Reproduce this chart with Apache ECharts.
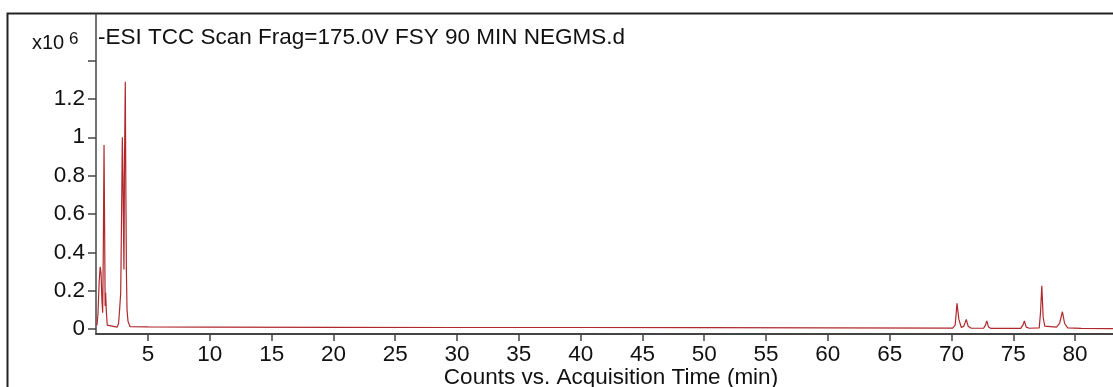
<!DOCTYPE html>
<html>
<head>
<meta charset="utf-8">
<script src="https://cdn.jsdelivr.net/npm/echarts@6/dist/echarts.min.js"></script>
<style>
  html, body { margin: 0; padding: 0; background: #fff; }
  #chart { width: 1113px; height: 387px; }
</style>
</head>
<body>
<div id="chart"></div>
<script>
// retention time (min) and counts (x10^6)
const times = [
  0.87, 0.95, 1.05, 1.13, 1.20, 1.27, 1.33, 1.38, 1.44, 1.49, 1.53, 1.57, 1.62, 1.70, 1.80,
  2.50, 2.62, 2.72, 2.79, 2.86, 2.92, 2.97, 3.05, 3.10, 3.16, 3.20, 3.25, 3.30, 3.38, 3.55,
  5, 10, 20, 30, 40, 50, 60, 70.1,
  70.3, 70.45, 70.6, 70.8, 71.0, 71.2, 71.35, 71.6,
  72.6, 72.75, 72.86, 73.0, 73.2,
  75.6, 75.78, 75.9, 76.05, 76.3,
  77.1, 77.2, 77.31, 77.42, 77.55, 78.5,
  78.75, 78.98, 79.15, 79.4, 80.5, 83.07
];
const counts = [
  0.02, 0.08, 0.25, 0.325, 0.29, 0.15, 0.085, 0.4, 0.96, 0.5, 0.12, 0.19, 0.1, 0.02, 0.01,
  0.01, 0.03, 0.12, 0.19, 0.6, 1.0, 0.8, 0.31, 0.9, 1.29, 0.8, 0.3, 0.1, 0.04, 0.012,
  0.011, 0.010, 0.009, 0.008, 0.008, 0.007, 0.006, 0.005,
  0.02, 0.134, 0.05, 0.008, 0.015, 0.05, 0.015, 0.004,
  0.004, 0.02, 0.042, 0.01, 0.003,
  0.003, 0.02, 0.042, 0.01, 0.004,
  0.006, 0.08, 0.226, 0.06, 0.015, 0.01,
  0.03, 0.09, 0.03, 0.006, 0.003, 0.002
];
const xTicks = [5, 10, 15, 20, 25, 30, 35, 40, 45, 50, 55, 60, 65, 70, 75, 80];
const yTicks = [0, 0.2, 0.4, 0.6, 0.8, 1, 1.2, 1.4];
const yLabels = [0, 0.2, 0.4, 0.6, 0.8, 1, 1.2];
const titleText = '-ESI TCC Scan Frag=175.0V FSY 90 MIN NEGMS.d';

const font = '"Liberation Sans", Arial, sans-serif';
let myChart = echarts.init(document.getElementById('chart'));

myChart.setOption({
  animation: false,
  textStyle: { fontFamily: font },
  title: {
    text: titleText,
    left: 98,
    top: 26,
    padding: 0,
    textStyle: { fontSize: 22.5, fontWeight: 'normal', color: '#111', fontFamily: font }
  },
  grid: { left: 96, right: 0, top: 14, bottom: 53, containLabel: false, outerBoundsMode: 'none' },
  xAxis: {
    type: 'value',
    min: 0.79,
    max: 83.07,
    name: 'Counts vs. Acquisition Time (min)',
    nameLocation: 'middle',
    nameGap: 32,
    nameMoveOverlap: false,
    nameTextStyle: { fontSize: 22.5, color: '#111', padding: [0, 0, 0, 13] },
    axisLine: { onZero: false, lineStyle: { color: '#444', width: 2 } },
    axisTick: { show: true, length: 7, customValues: xTicks, lineStyle: { color: '#444', width: 1.5 } },
    axisLabel: { customValues: xTicks, fontSize: 22.5, color: '#111', margin: 9 },
    splitLine: { show: false }
  },
  yAxis: {
    type: 'value',
    min: -0.026,
    max: 1.643,
    axisLine: { show: true, onZero: false, lineStyle: { color: '#444', width: 1.5 } },
    axisTick: { show: true, length: 8, customValues: yTicks, lineStyle: { color: '#444', width: 1.5 } },
    axisLabel: { customValues: yLabels, fontSize: 22.5, color: '#111', margin: 11 },
    splitLine: { show: false }
  },
  graphic: [
    {
      type: 'polyline',
      shape: { points: [[7.5, 387], [7.5, 13.5], [1113, 13.5]] },
      style: { stroke: '#222', lineWidth: 2, fill: null }
    },
    {
      type: 'text',
      x: 32,
      y: 33,
      style: { text: 'x10', fontSize: 20, fontFamily: font, fill: '#111', verticalAlign: 'top' }
    },
    {
      type: 'text',
      x: 69,
      y: 31,
      style: { text: '6', fontSize: 17, fontFamily: font, fill: '#111', verticalAlign: 'top' }
    }
  ],
  series: [{
    type: 'line',
    data: times.map((t, i) => [t, counts[i]]),
    symbol: 'none',
    lineStyle: { color: '#b0282c', width: 1.2 }
  }]
});

window.addEventListener('resize', () => {
  myChart.resize();
});
</script>
</body>
</html>
